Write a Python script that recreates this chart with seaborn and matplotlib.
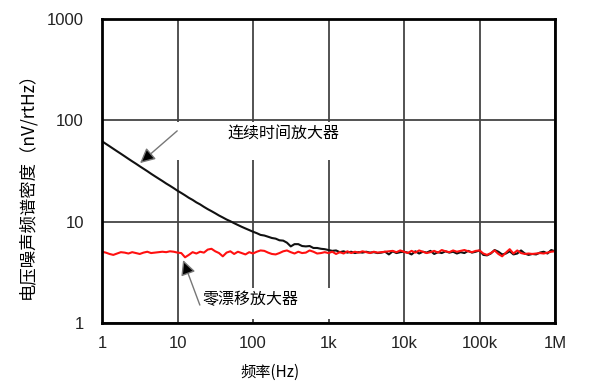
import numpy as np
import pandas as pd
import matplotlib
matplotlib.use("Agg")
import matplotlib.pyplot as plt
import seaborn as sns
from matplotlib.patches import Rectangle

# ---- data ----
freq = np.logspace(0, 6, 121)  # sampling grid, 0.05 decade steps

continuous_amp = [
    62.2, 58.7, 55.5, 52.4, 49.5, 46.8, 44.2, 41.7, 39.4, 37.3,
    35.2, 33.3, 31.5, 29.7, 28.1, 26.6, 25.2, 23.8, 22.6, 21.4,
    20.2, 19.2, 18.2, 17.2, 16.4, 15.5, 14.8, 14.0, 13.3, 12.7,
    12.1, 11.5, 11.0, 10.5, 10.1, 9.66, 9.27, 8.9, 8.57, 8.26,
    7.96, 7.7, 7.4, 7.3, 7.1, 6.9, 6.8, 6.55, 6.5, 6.2,
    5.7, 6.0, 6.0, 5.75, 5.7, 5.75, 5.5, 5.5, 5.4, 5.35,
    5.25, 5.15, 5.20, 5.00, 5.10, 4.95, 5.05, 4.90, 5.00, 4.95,
    5.05, 4.95, 5.00, 4.90, 4.95, 5.05, 4.75, 5.10, 4.90, 5.00,
    5.05, 4.95, 4.75, 5.10, 4.85, 5.05, 4.95, 5.15, 4.80, 5.00,
    4.90, 5.10, 4.95, 5.05, 4.85, 5.00, 4.90, 5.15, 4.95, 5.05,
    5.20, 4.70, 4.65, 4.85, 5.25, 5.05, 4.75, 4.85, 5.10, 4.75,
    4.85, 5.20, 4.85, 4.70, 4.80, 4.75, 4.95, 5.05, 4.85, 5.25,
    5.10,
]

zero_drift_amp = [
    5.05, 4.95, 4.80, 4.70, 4.85, 5.00, 4.95, 4.85, 5.00, 4.90,
    4.80, 4.95, 5.05, 4.90, 4.95, 5.00, 5.05, 5.00, 5.10, 5.05,
    4.95, 4.90, 4.45, 4.70, 5.00, 4.85, 5.05, 4.95, 5.30, 5.40,
    5.10, 4.90, 4.55, 4.95, 5.10, 4.80, 5.05, 4.90, 4.75, 5.00,
    4.85, 5.05, 5.20, 5.15, 4.95, 4.80, 4.75, 4.90, 5.10, 5.20,
    5.00, 4.85, 5.05, 4.90, 4.95, 5.20, 5.05, 4.85, 4.90, 5.00,
    4.90, 5.05, 4.80, 5.00, 4.85, 5.10, 4.90, 5.05, 4.95, 5.10,
    5.00, 4.90, 5.05, 4.95, 5.00, 5.05, 5.10, 5.15, 5.00, 5.20,
    5.05, 4.90, 5.15, 4.95, 5.20, 5.05, 4.90, 5.00, 5.15, 4.95,
    5.25, 5.10, 5.00, 5.20, 5.05, 5.15, 5.25, 5.10, 5.00, 5.15,
    5.20, 4.85, 4.70, 4.90, 5.20, 4.80, 4.55, 4.95, 5.35, 4.85,
    5.20, 4.90, 4.80, 4.85, 4.80, 4.85, 4.90, 4.85, 4.95, 5.05,
    5.10,
]

x_ticks = [1, 10, 100, 1e3, 1e4, 1e5, 1e6]
x_ticklabels = ["1", "10", "100", "1k", "10k", "100k", "1M"]
y_ticks = [1, 10, 100, 1000]
y_ticklabels = ["1", "10", "100", "1000"]

series_names = ["连续时间放大器", "零漂移放大器"]
series_colors = ["#111111", "#ff1010"]

df = pd.concat([
    pd.DataFrame({"f": freq, "v": continuous_amp, "s": series_names[0]}),
    pd.DataFrame({"f": freq, "v": zero_drift_amp, "s": series_names[1]}),
])

# ---- style ----
sns.set_style("white")
plt.rcParams["font.family"] = ["Liberation Sans", "Noto Sans CJK SC", "DejaVu Sans"]
cjk = ["Noto Sans CJK SC", "DejaVu Sans"]

fig = plt.figure(figsize=(6.0, 3.89), dpi=100)
ax = fig.add_axes([102 / 600, 1 - 323 / 389, 453 / 600, 304 / 389])

sns.lineplot(data=df, x="f", y="v", hue="s", palette=series_colors,
             hue_order=series_names, ax=ax, legend=False, linewidth=1.5,
             zorder=4, estimator=None, sort=False)

ax.set_xscale("log")
ax.set_yscale("log")
ax.set_xlim(1, 1e6)
ax.set_ylim(1, 1000)
ax.set_xticks(x_ticks)
ax.set_xticklabels(x_ticklabels)
ax.set_yticks(y_ticks)
ax.set_yticklabels(y_ticklabels)
ax.minorticks_off()
ax.tick_params(axis="both", length=0, labelsize=12, colors="#222222")
ax.tick_params(axis="y", pad=13)
ax.tick_params(axis="x", pad=9)
ax.set_xlabel("")
ax.set_ylabel("")

ax.grid(True, which="major", color="#444444", linewidth=1.3, zorder=1)
ax.set_axisbelow(True)
for sp in ax.spines.values():
    sp.set_color("black")
    sp.set_linewidth(2.0)
    sp.set_zorder(6)

# white label boxes that interrupt the grid
ax.add_patch(Rectangle((0.150, 0.536), 0.386, 0.125, transform=ax.transAxes,
                       facecolor="white", edgecolor="none", zorder=2))
ax.add_patch(Rectangle((0.194, 0.012), 0.331, 0.103, transform=ax.transAxes,
                       facecolor="white", edgecolor="none", zorder=2))

arrow_kw = dict(arrowstyle="-|>,head_length=0.9,head_width=0.45",
                facecolor="black", edgecolor="#777777", linewidth=1.0,
                shrinkA=0, shrinkB=0)
ax.annotate("", xy=(0.084, 0.526), xytext=(0.166, 0.632),
            xycoords="axes fraction", textcoords="axes fraction",
            arrowprops=arrow_kw, zorder=5)
ax.annotate("", xy=(0.179, 0.207), xytext=(0.216, 0.059),
            xycoords="axes fraction", textcoords="axes fraction",
            arrowprops=arrow_kw, zorder=5)

ax.text(0.400, 0.622, series_names[0], transform=ax.transAxes, ha="center",
        va="center", fontsize=11.5, family=cjk, color="black", zorder=5)
ax.text(0.327, 0.076, series_names[1], transform=ax.transAxes, ha="center",
        va="center", fontsize=11.5, family=cjk, color="black", zorder=5)

fig.text(27 / 600, 1 - 181 / 389, "电压噪声频谱密度（nV/rtHz）", rotation=90,
         ha="center", va="center", fontsize=12.5, family=cjk, color="black")
fig.text(270 / 600, 1 - 372 / 389, "频率(Hz)", ha="center", va="center",
         fontsize=11, family=cjk, color="black")

fig.savefig("out.png", dpi=100, facecolor="white")
